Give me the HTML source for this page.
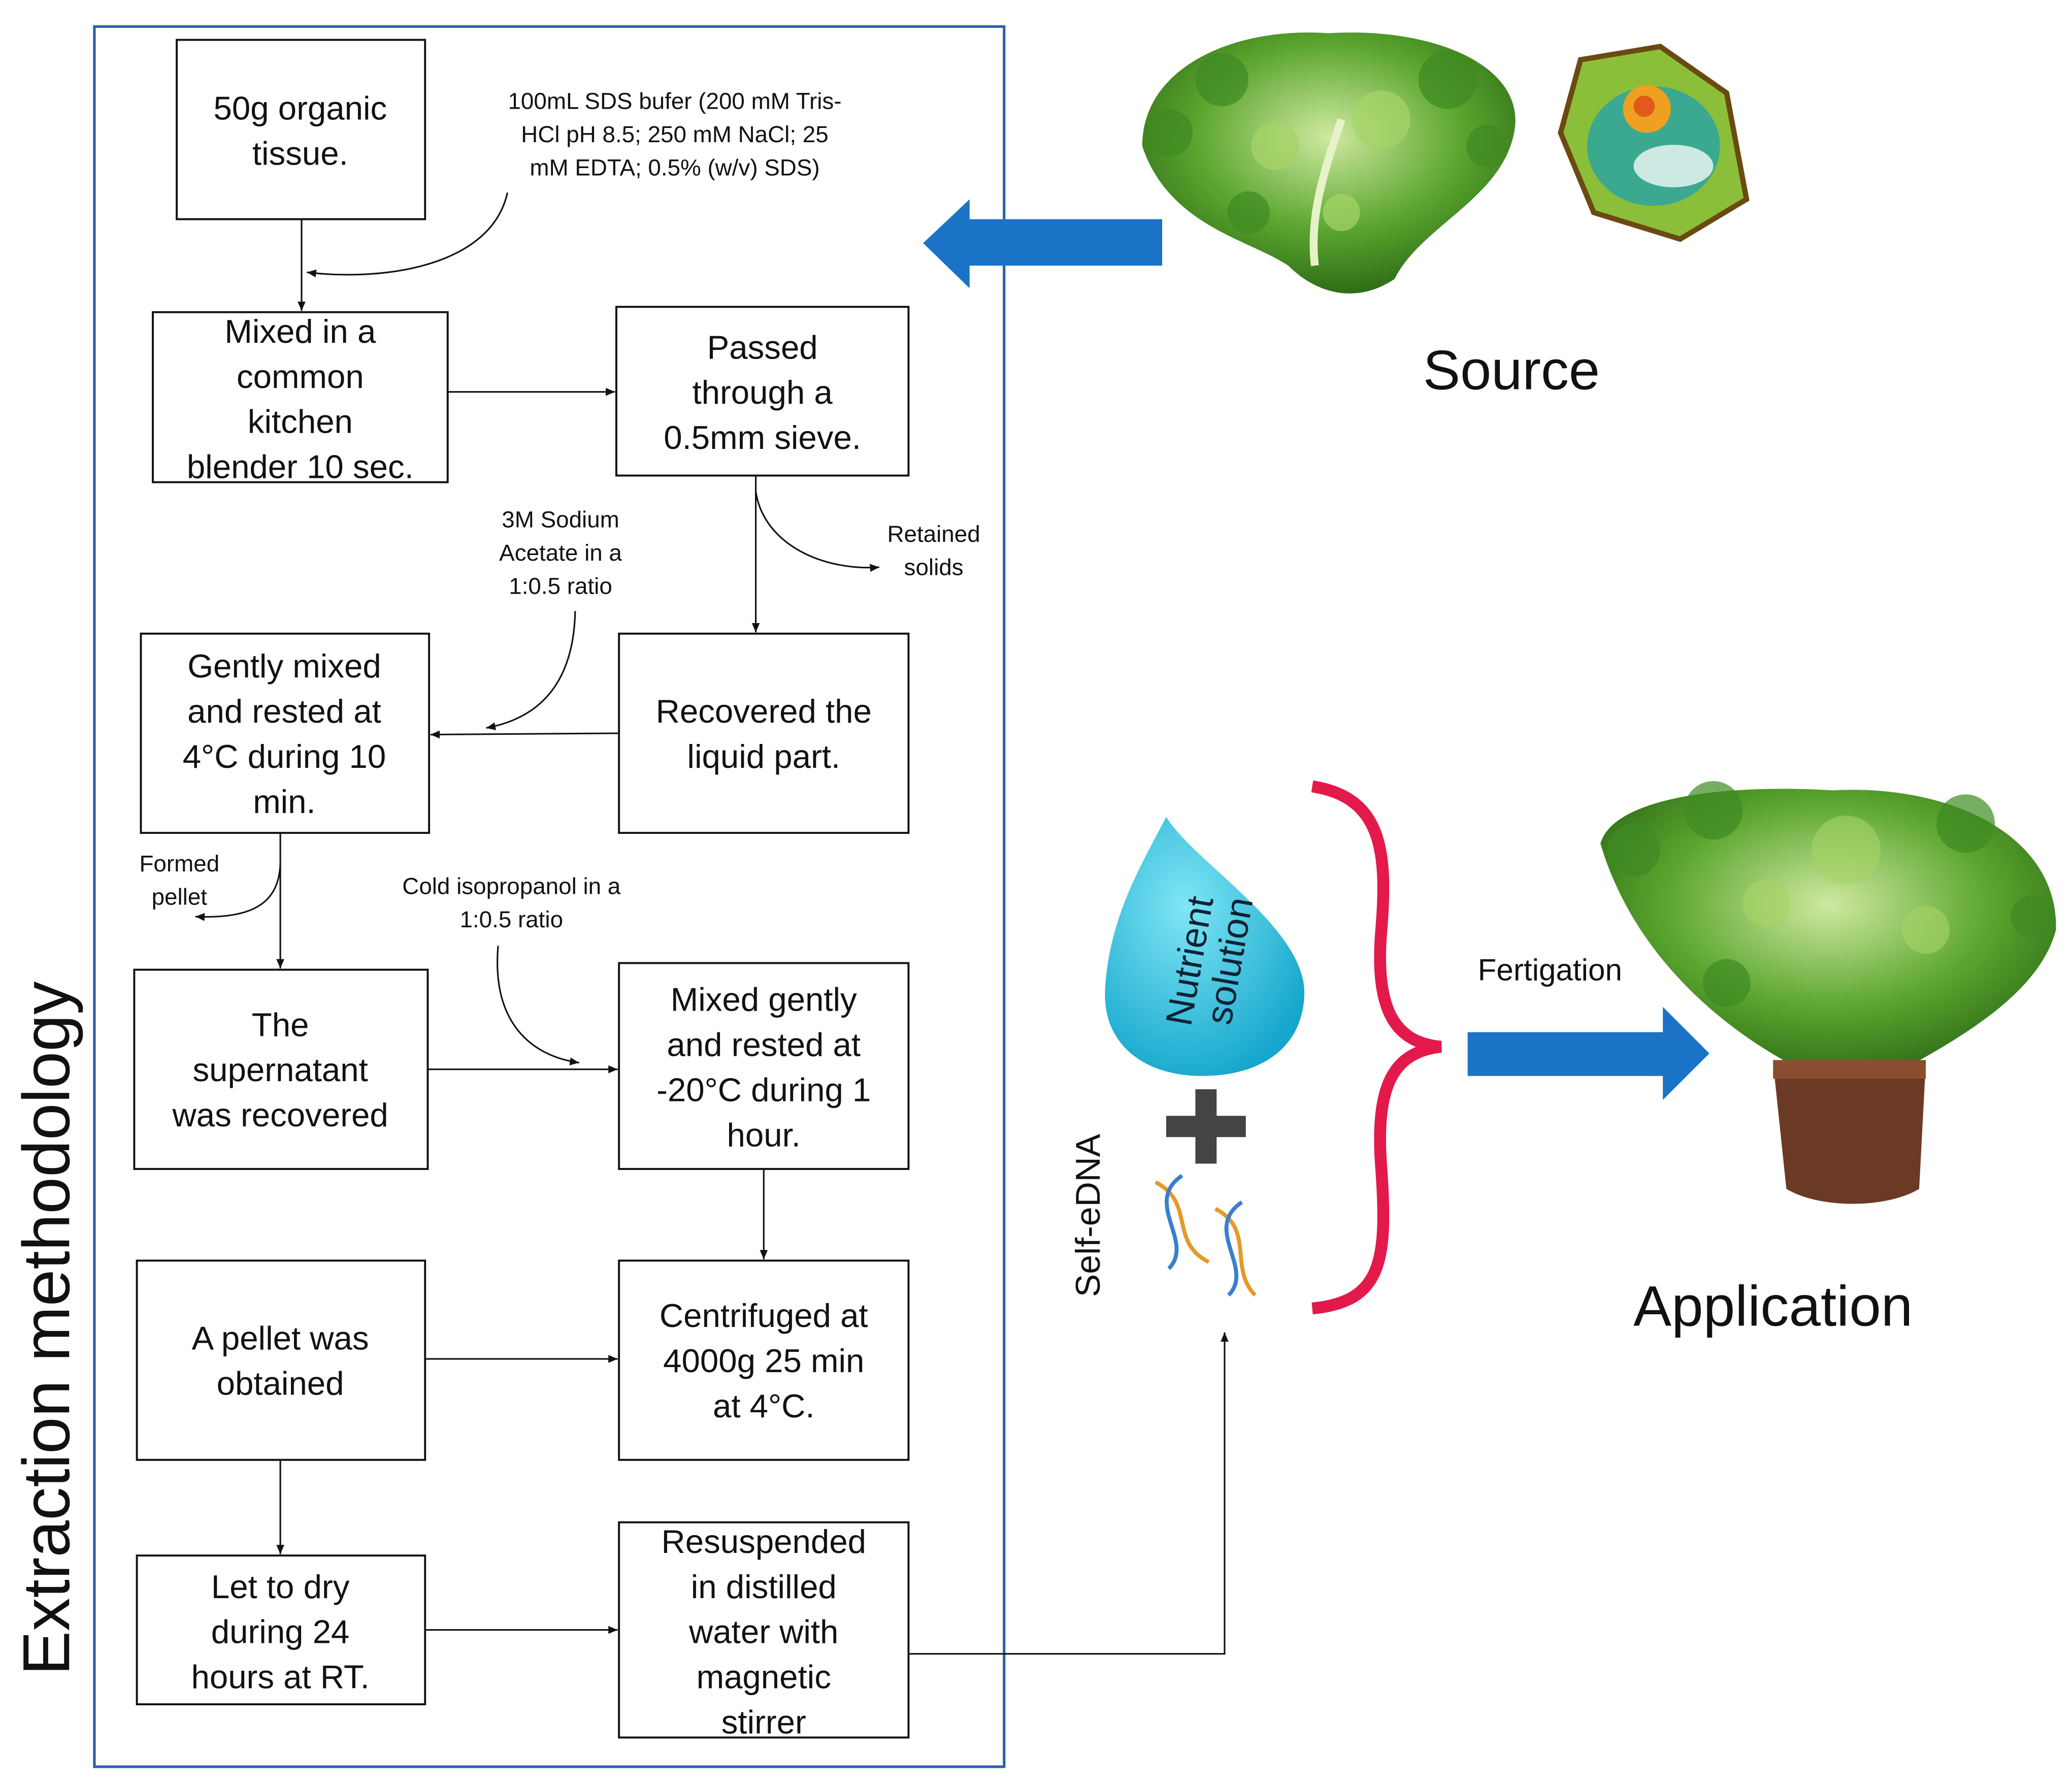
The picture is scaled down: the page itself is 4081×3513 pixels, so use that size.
<!DOCTYPE html>
<html><head><meta charset="utf-8"><style>
html,body{margin:0;padding:0;background:#fff;}
svg{display:block;}
text{font-family:"Liberation Sans",sans-serif;fill:#111;}
.b{font-size:25px;text-anchor:middle;}
.s{font-size:17.5px;text-anchor:middle;}
</style></head><body>
<svg width="4081" height="3513" viewBox="0 0 1560 1343" xmlns="http://www.w3.org/2000/svg">
<defs>
<marker id="a" markerWidth="8" markerHeight="8" refX="7" refY="4" orient="auto" markerUnits="userSpaceOnUse"><path d="M0,1 L7,4 L0,7 z" fill="#111"/></marker>
<radialGradient id="lg" cx="50%" cy="40%" r="60%"><stop offset="0" stop-color="#cfe9a0"/><stop offset="0.6" stop-color="#5aa52e"/><stop offset="1" stop-color="#2f6d17"/></radialGradient>
<radialGradient id="dg" cx="40%" cy="35%" r="70%"><stop offset="0" stop-color="#7fe6f5"/><stop offset="1" stop-color="#14a6cc"/></radialGradient>
</defs>
<rect x="71" y="20" width="685" height="1310" fill="none" stroke="#2e5fae" stroke-width="2"/>
<g fill="none" stroke="#111" stroke-width="1.5">
<rect x="133" y="30" width="187" height="135"/>
<rect x="115" y="235" width="222" height="128"/>
<rect x="464" y="231" width="220" height="127"/>
<rect x="106" y="477" width="217" height="150"/>
<rect x="466" y="477" width="218" height="150"/>
<rect x="101" y="730" width="221" height="150"/>
<rect x="466" y="725" width="218" height="155"/>
<rect x="103" y="949" width="217" height="150"/>
<rect x="466" y="949" width="218" height="150"/>
<rect x="103" y="1171" width="217" height="112"/>
<rect x="466" y="1146" width="218" height="162"/>
</g>
<g fill="none" stroke="#111" stroke-width="1.2" marker-end="url(#a)">
<path d="M227,165 V234"/>
<path d="M337,295 H463"/>
<path d="M569,358 V476"/>
<path d="M466,552 L324,553"/>
<path d="M211,627 V729"/>
<path d="M322,805 H465"/>
<path d="M575,880 V948"/>
<path d="M320,1023 H465"/>
<path d="M211,1099 V1170"/>
<path d="M320,1227 H465"/>
<path d="M684,1245 H922 V1003"/>
<path d="M382,145 C370,200 290,212 231,205"/>
<path d="M569,370 C575,410 620,430 662,427"/>
<path d="M433,460 C432,510 410,540 366,548"/>
<path d="M211,650 C210,680 190,692 147,690"/>
<path d="M375,712 C370,770 400,795 436,800"/>
</g>
<g class="b">
<text x="226" y="90">50g organic</text><text x="226" y="124">tissue.</text>
<text x="226" y="258">Mixed in a</text><text x="226" y="292">common</text><text x="226" y="326">kitchen</text><text x="226" y="360">blender 10 sec.</text>
<text x="574" y="270">Passed</text><text x="574" y="304">through a</text><text x="574" y="338">0.5mm sieve.</text>
<text x="214" y="510">Gently mixed</text><text x="214" y="544">and rested at</text><text x="214" y="578">4°C during 10</text><text x="214" y="612">min.</text>
<text x="575" y="544">Recovered the</text><text x="575" y="578">liquid part.</text>
<text x="211" y="780">The</text><text x="211" y="814">supernatant</text><text x="211" y="848">was recovered</text>
<text x="575" y="761">Mixed gently</text><text x="575" y="795">and rested at</text><text x="575" y="829">-20°C during 1</text><text x="575" y="863">hour.</text>
<text x="211" y="1016">A pellet was</text><text x="211" y="1050">obtained</text>
<text x="575" y="999">Centrifuged at</text><text x="575" y="1033">4000g 25 min</text><text x="575" y="1067">at 4°C.</text>
<text x="211" y="1203">Let to dry</text><text x="211" y="1237">during 24</text><text x="211" y="1271">hours at RT.</text>
<text x="575" y="1169">Resuspended</text><text x="575" y="1203">in distilled</text><text x="575" y="1237">water with</text><text x="575" y="1271">magnetic</text><text x="575" y="1305">stirrer</text>
</g>
<g class="s">
<text x="508" y="82">100mL SDS bufer (200 mM Tris-</text>
<text x="508" y="107">HCl pH 8.5; 250 mM NaCl; 25</text>
<text x="508" y="132">mM EDTA; 0.5% (w/v) SDS)</text>
<text x="703" y="408">Retained</text><text x="703" y="433">solids</text>
<text x="422" y="397">3M Sodium</text><text x="422" y="422">Acetate in a</text><text x="422" y="447">1:0.5 ratio</text>
<text x="135" y="656">Formed</text><text x="135" y="681">pellet</text>
<text x="385" y="673">Cold isopropanol in a</text><text x="385" y="698">1:0.5 ratio</text>
</g>
<text x="52" y="1000" transform="rotate(-90 52 1000)" style="font-size:50px;text-anchor:middle">Extraction methodology</text>
<text x="828" y="915" transform="rotate(-90 828 915)" style="font-size:26px;text-anchor:middle">Self-eDNA</text>
<text x="1138" y="293" style="font-size:42px;text-anchor:middle">Source</text>
<text x="1335" y="998" style="font-size:43px;text-anchor:middle">Application</text>
<text x="1167" y="738" style="font-size:23px;text-anchor:middle">Fertigation</text>
<path d="M875,165 H730 V150 L695,183 L730,217 V200 H875 Z" fill="#1a73c6"/>
<path d="M1105,777 H1252 V758 L1287,793 L1252,828 V810 H1105 Z" fill="#1a73c6"/>
<path d="M988,592 C1040,600 1045,640 1040,700 C1035,760 1050,785 1085,788 C1050,792 1035,815 1040,880 C1045,950 1040,980 988,985" fill="none" stroke="#e3194b" stroke-width="9"/>
<!-- source lettuce -->
<path d="M860,110 C860,50 930,20 1000,25 C1080,20 1150,50 1140,100 C1130,150 1070,170 1050,210 C1020,230 990,220 970,200 C940,180 880,170 860,110 Z" fill="url(#lg)"/>
<g fill="#3f8a22" opacity="0.7"><circle cx="880" cy="100" r="18"/><circle cx="920" cy="60" r="20"/><circle cx="1090" cy="60" r="22"/><circle cx="1120" cy="110" r="16"/><circle cx="940" cy="160" r="16"/></g>
<g fill="#a6d468" opacity="0.7"><circle cx="1040" cy="90" r="22"/><circle cx="960" cy="110" r="18"/><circle cx="1010" cy="160" r="14"/></g>
<path d="M990,200 C985,160 1000,120 1010,90" stroke="#e6f2c8" stroke-width="6" fill="none"/>
<path d="M1190,45 L1250,35 L1300,70 L1315,150 L1265,180 L1200,160 L1175,100 Z" fill="#8bbf3a" stroke="#6b4a12" stroke-width="4"/>
<ellipse cx="1245" cy="110" rx="50" ry="45" fill="#3aa98f"/>
<circle cx="1240" cy="82" r="18" fill="#f0a020"/><circle cx="1238" cy="80" r="8" fill="#e05a1a"/>
<ellipse cx="1260" cy="125" rx="30" ry="16" fill="#cde9e4"/>
<!-- drop -->
<path d="M878,615 C900,650 985,700 982,750 C980,790 948,810 905,810 C860,810 830,785 832,745 C835,690 860,650 878,615 Z" fill="url(#dg)"/>
<text x="905" y="725" transform="rotate(-80 905 725)" style="font-size:28px;text-anchor:middle;fill:#123">Nutrient</text>
<text x="935" y="725" transform="rotate(-80 935 725)" style="font-size:28px;text-anchor:middle;fill:#123">solution</text>
<rect x="878" y="840" width="60" height="16" fill="#444"/><rect x="900" y="820" width="16" height="56" fill="#444"/>
<g stroke-width="3" fill="none">
<path d="M870,890 C900,905 880,935 910,950" stroke="#e39a2b"/><path d="M890,885 C860,905 900,935 880,955" stroke="#3a7fcf"/>
<path d="M915,910 C945,925 925,955 945,975" stroke="#e39a2b"/><path d="M935,905 C905,925 945,955 925,975" stroke="#3a7fcf"/>
</g>
<!-- application lettuce + pot -->
<path d="M1205,635 C1215,600 1300,590 1380,595 C1470,590 1550,630 1548,700 C1535,750 1470,785 1420,812 L1370,812 C1300,780 1230,720 1205,635 Z" fill="url(#lg)"/>
<g fill="#3f8a22" opacity="0.7"><circle cx="1230" cy="640" r="20"/><circle cx="1290" cy="610" r="22"/><circle cx="1480" cy="620" r="22"/><circle cx="1530" cy="690" r="16"/><circle cx="1300" cy="740" r="18"/></g>
<g fill="#a6d468" opacity="0.6"><circle cx="1390" cy="640" r="26"/><circle cx="1330" cy="680" r="18"/><circle cx="1450" cy="700" r="18"/></g>
<path d="M1335,800 H1450 L1445,895 C1420,910 1370,910 1345,895 Z" fill="#6b3a24"/>
<rect x="1335" y="798" width="115" height="14" fill="#8a4d30"/>
</svg>
</body></html>
